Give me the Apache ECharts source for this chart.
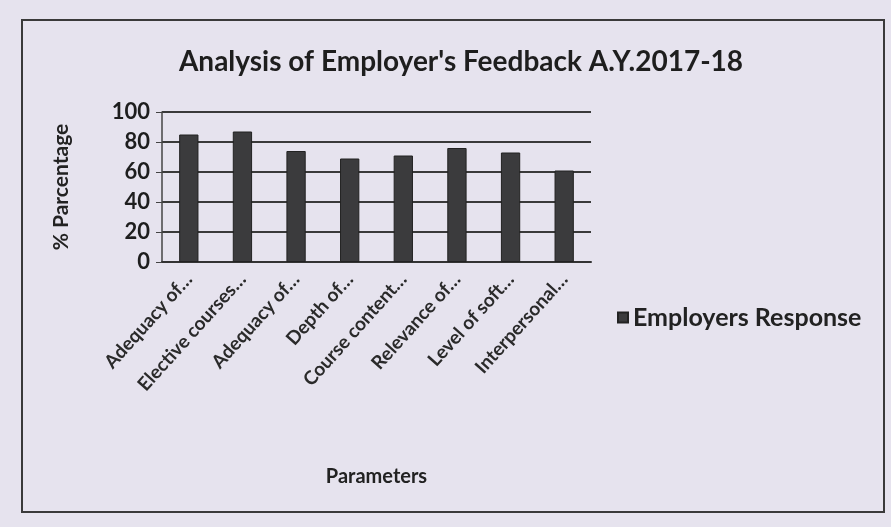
<!DOCTYPE html>
<html lang="en">
  <head>
    <meta charset="UTF-8" />
    <title>Analysis of Employer's Feedback</title>
    <style>
      * {
        margin: 0;
        padding: 0;
      }
      body {
        background: #e6e3ee;
      }
      #main {
        width: 891px;
        height: 527px;
      }
    </style>
  </head>

  <body>
    <div id="main"></div>
  </body>

  <script src="https://cdn.jsdelivr.net/npm/echarts@6/dist/echarts.min.js"></script>
  <script>
    // 分类
    const categories = [
      "Adequacy of…",
      "Elective courses…",
      "Adequacy of…",
      "Depth of…",
      "Course content…",
      "Relevance of…",
      "Level of soft…",
      "Interpersonal…",
    ];
    // 雇主反馈 (%)
    const employersResponse = [85, 87, 74, 69, 71, 76, 73, 61];
    // y 轴刻度
    const yTicks = [0, 20, 40, 60, 80, 100];

    const myChart = echarts.init(document.getElementById("main"));
    const font = "Lato, 'Open Sans', sans-serif";

    const option = {
      backgroundColor: "#e6e3ee",
      title: {
        text: "Analysis of Employer's Feedback A.Y.2017-18",
        left: 456,
        top: 43,
        textAlign: "center",
        textStyle: {
          fontFamily: font,
          fontSize: 28,
          fontWeight: "bold",
          color: "#1e1e1e",
        },
      },
      legend: {
        left: 612,
        top: 300,
        itemWidth: 10,
        itemHeight: 10,
        itemGap: 6,
        icon: "rect",
        textStyle: {
          fontFamily: font,
          fontSize: 25,
          fontWeight: "bold",
          color: "#222",
        },
        data: ["Employers Response"],
      },
      grid: {
        left: 162,
        right: 300,
        top: 112,
        bottom: 265,
      },
      xAxis: {
        type: "category",
        data: categories,
        name: "Parameters",
        nameLocation: "middle",
        nameGap: 205,
        nameTextStyle: {
          fontFamily: font,
          fontSize: 20,
          fontWeight: "bold",
          color: "#222",
        },
        axisLine: { lineStyle: { color: "#333", width: 2 } },
        axisTick: { show: false },
        axisLabel: {
          interval: 0,
          rotate: 48,
          margin: 14,
          fontFamily: font,
          fontSize: 19,
          fontWeight: "bold",
          color: "#2a2a2a",
        },
      },
      yAxis: {
        type: "value",
        min: yTicks[0],
        max: yTicks[yTicks.length - 1],
        interval: 20,
        name: "% Parcentage",
        nameLocation: "middle",
        nameGap: 90,
        nameTextStyle: {
          fontFamily: font,
          fontSize: 21,
          fontWeight: "bold",
          color: "#222",
        },
        axisLine: { show: true, lineStyle: { color: "#444", width: 1.5 } },
        axisTick: { show: true, length: 6, lineStyle: { color: "#444" } },
        axisLabel: {
          margin: 12,
          fontFamily: font,
          fontSize: 22,
          fontWeight: "bold",
          color: "#1e1e1e",
        },
        splitLine: { lineStyle: { color: "#3a3a3a", width: 2 } },
      },
      series: [
        {
          name: "Employers Response",
          type: "bar",
          data: employersResponse,
          barWidth: "36%",
          itemStyle: {
            color: "#3b3b3d",
            borderColor: "#222",
            borderWidth: 1,
          },
        },
      ],
      graphic: [
        {
          type: "rect",
          shape: { x: 22, y: 20, width: 862, height: 492 },
          style: { fill: "none", stroke: "#3a3a3a", lineWidth: 2 },
          silent: true,
        },
      ],
    };

    myChart.setOption(option);
  </script>
</html>
